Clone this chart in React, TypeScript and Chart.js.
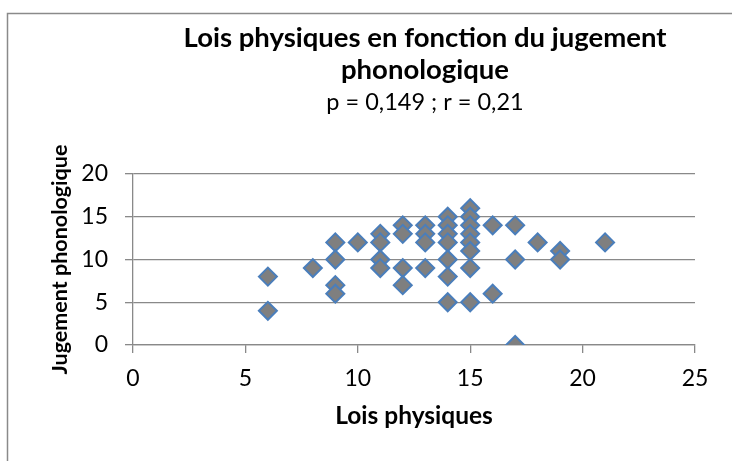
import React, { useEffect, useRef } from "react";
import { Chart, registerables } from "chart.js";

Chart.register(...registerables);

// Data: Lois physiques (x) vs Jugement phonologique (y)
const loisPhysiques = [
  6, 6, 8, 9, 9, 9, 9, 10, 11, 11, 11, 11, 12, 12, 12, 12, 13, 13, 13, 13,
  14, 14, 14, 14, 14, 14, 14, 15, 15, 15, 15, 15, 15, 15, 15, 16, 16, 17, 17,
  17, 18, 19, 19, 21,
];
const jugementPhonologique = [
  8, 4, 9, 12, 10, 7, 6, 12, 13, 12, 10, 9, 14, 13, 9, 7, 14, 13, 12, 9,
  15, 14, 13, 12, 10, 8, 5, 16, 15, 14, 13, 12, 11, 9, 5, 14, 6, 14, 10,
  0, 12, 11, 10, 12,
];
const xTicks = [0, 5, 10, 15, 20, 25];
const yTicks = [0, 5, 10, 15, 20];

const titleLines = ["Lois physiques en fonction du jugement", "phonologique"];
const subtitleText = "p = 0,149 ; r = 0,21";
const xTitle = "Lois physiques";
const yTitle = "Jugement phonologique";

const FONT = "Lato, Carlito, 'Liberation Sans', sans-serif";
const GRID = "#898989";

export default function App() {
  const canvasRef = useRef<HTMLCanvasElement | null>(null);

  useEffect(() => {
    const canvas = canvasRef.current;
    if (!canvas) return;
    const points = loisPhysiques.map((x, i) => ({ x, y: jugementPhonologique[i] }));

    const framePlugin = {
      id: "frameAndTitle",
      beforeDraw(chart: any) {
        const ctx = chart.ctx;
        ctx.save();
        ctx.fillStyle = "#ffffff";
        ctx.fillRect(0, 0, chart.width, chart.height);
        ctx.strokeStyle = "#8a8a8a";
        ctx.lineWidth = 1.5;
        ctx.strokeRect(7.5, 13.5, chart.width + 50, chart.height + 50);
        ctx.restore();
      },
      afterDraw(chart: any) {
        const ctx = chart.ctx;
        ctx.save();
        ctx.fillStyle = "#000";
        ctx.textAlign = "center";
        ctx.textBaseline = "middle";
        const cx = 425;
        ctx.font = `bold 27.5px ${FONT}`;
        ctx.fillText(titleLines[0], cx, 38);
        ctx.fillText(titleLines[1], cx, 70);
        ctx.font = `23.5px ${FONT}`;
        ctx.fillText(subtitleText, cx, 102);
        ctx.restore();
      },
    };

    const chart = new Chart(canvas, {
      type: "scatter",
      data: {
        datasets: [
          {
            data: points,
            pointStyle: "rectRot",
            pointRadius: 9,
            pointHoverRadius: 9,
            pointBackgroundColor: "#7f7f7f",
            pointBorderColor: "#4a7ebb",
            pointBorderWidth: 2,
          },
        ],
      },
      options: {
        animation: false,
        responsive: false,
        maintainAspectRatio: false,
        events: [],
        layout: { padding: { left: 0, right: 37, top: 174, bottom: 0 } },
        plugins: {
          legend: { display: false },
          tooltip: { enabled: false },
          title: { display: false },
        },
        scales: {
          x: {
            type: "linear",
            min: 0,
            max: 25,
            afterFit: (s: any) => {
              s.height = 116;
            },
            afterBuildTicks: (s: any) => {
              s.ticks = xTicks.map((v) => ({ value: v }));
            },
            ticks: {
              stepSize: 5,
              padding: 12,
              color: "#000",
              font: { family: FONT, size: 23 },
              maxRotation: 0,
            },
            grid: {
              drawOnChartArea: false,
              drawTicks: true,
              tickLength: 8,
              color: GRID,
              lineWidth: 1.3,
            },
            border: { display: true, color: GRID, width: 1.3 },
            title: {
              display: true,
              text: xTitle,
              color: "#000",
              font: { family: FONT, size: 24.5, weight: "bold" },
              padding: { top: 0, bottom: 30 },
            },
          },
          y: {
            type: "linear",
            min: 0,
            max: 20,
            afterFit: (s: any) => {
              s.width = 133;
            },
            afterBuildTicks: (s: any) => {
              s.ticks = yTicks.map((v) => ({ value: v }));
            },
            ticks: {
              stepSize: 5,
              padding: 17,
              color: "#000",
              font: { family: FONT, size: 23 },
            },
            grid: {
              drawOnChartArea: true,
              drawTicks: true,
              tickLength: 8,
              color: GRID,
              lineWidth: 1.3,
            },
            border: { display: true, color: GRID, width: 1.3 },
            title: {
              display: true,
              text: yTitle,
              color: "#000",
              font: { family: FONT, size: 21.5, weight: "bold" },
              padding: { top: 47, bottom: 0 },
            },
          },
        },
      },
      plugins: [framePlugin],
    });

    return () => chart.destroy();
  }, []);

  return (
    <div style={{ position: "fixed", left: 0, top: 0, width: 732, height: 461 }}>
      <canvas ref={canvasRef} width={732} height={461} style={{ width: 732, height: 461 }} />
    </div>
  );
}
